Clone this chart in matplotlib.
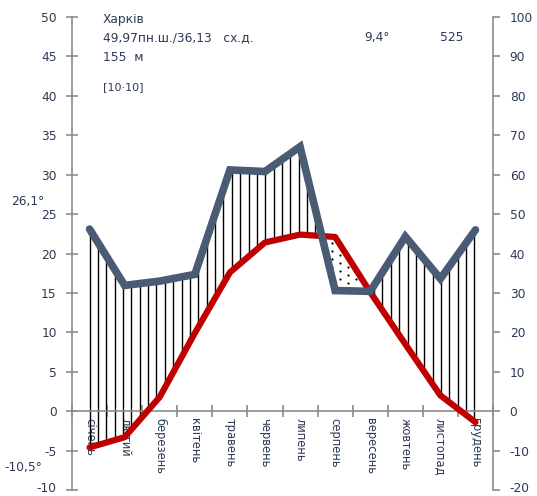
import numpy as np
import matplotlib
matplotlib.use("Agg")
import matplotlib.pyplot as plt
from matplotlib.transforms import ScaledTranslation

plt.rcParams['font.family'] = ['DejaVu Sans']

months = ["січень", "лютий", "березень", "квітень", "травень", "червень",
          "липень", "серпень", "вересень", "жовтень", "листопад", "грудень"]
temperature = [-4.6, -3.3, 1.8, 9.9, 17.6, 21.4, 22.4, 22.1, 15.1, 8.5, 2.0, -1.4]
precipitation = [46.2, 31.9, 33.0, 34.7, 61.2, 60.8, 67.1, 30.6, 30.4, 44.3, 33.6, 46.0]
left_ticks = [-10, -5, 0, 5, 10, 15, 20, 25, 30, 35, 40, 45, 50]
right_ticks = [-20, -10, 0, 10, 20, 30, 40, 50, 60, 70, 80, 90, 100]
station = "Харків"
coords = "49,97пн.ш./36,13   сх.д."
elevation = "155  м"
period = "[10·10]"
mean_temp = "9,4°"
annual_precip = "525"
max_label = "26,1°"
min_label = "-10,5°"

TXT = '#2B3A55'
AX = '#8C8C8C'
RED = '#C00000'
BLUE = '#4A5B74'
FS = 8.8

fig = plt.figure(figsize=(5.37, 4.96), dpi=100)
ax = fig.add_axes([0.1341, 0.0121, 0.784, 0.9536])
ax2 = ax.twinx()
ax.set_zorder(2)
ax2.set_zorder(1)
ax.patch.set_visible(False)

x = np.arange(len(months))
t = np.array(temperature, float)
p = np.array(precipitation, float) / 2.0  # precipitation in temperature units

# hatching: vertical lines where humid, dots where arid
hx = np.arange(0, 11.0001, 0.2385)
ht = np.interp(hx, x, t)
hp = np.interp(hx, x, p)
wet = hp > ht
ax.vlines(hx[wet], ht[wet], hp[wet], color='black', lw=1.0, zorder=2)

dx_list, dy_list = [], []
dgx = np.arange(0, 11.0001, 0.23)
for j, xx in enumerate(dgx):
    tt = np.interp(xx, x, t)
    pp = np.interp(xx, x, p)
    if tt > pp + 0.6:
        off = 0.0 if j % 2 == 0 else 0.5
        for yy in np.arange(np.ceil(pp) + 0.3 + off, tt - 0.4, 1.0):
            dx_list.append(xx)
            dy_list.append(yy)
ax.scatter(dx_list, dy_list, s=2.5, color='black', zorder=2, linewidths=0)

ax.plot(x, t, color=RED, lw=4.5, solid_capstyle='round', solid_joinstyle='round', zorder=3)
ax.plot(x, p, color=BLUE, lw=5.5, solid_capstyle='round', solid_joinstyle='miter', zorder=4)

ax.set_xlim(-0.5, 11.5)
ax.set_ylim(-10, 50)
ax2.set_ylim(-20, 100)

# axes styling
for a in (ax, ax2):
    for s in a.spines.values():
        s.set_visible(False)
ax.spines['left'].set_visible(True)
ax.spines['left'].set_color(AX)
ax.spines['left'].set_linewidth(1.2)
ax.spines['bottom'].set_visible(True)
ax.spines['bottom'].set_position(('data', 0))
ax.spines['bottom'].set_color(AX)
ax.spines['bottom'].set_linewidth(1.2)
ax2.spines['right'].set_visible(True)
ax2.spines['right'].set_color(AX)
ax2.spines['right'].set_linewidth(1.2)

ax.set_yticks(left_ticks)
ax.set_yticklabels([str(v) for v in left_ticks])
ax.tick_params(axis='y', direction='inout', length=8, width=1.2, color=AX,
               labelsize=FS, labelcolor=TXT, pad=7)
ax2.set_yticks(right_ticks)
ax2.set_yticklabels([str(v) for v in right_ticks])
ax2.tick_params(axis='y', direction='out', length=5, width=1.2, color=AX,
                labelsize=FS, labelcolor=TXT, pad=7)

ax.set_xticks(np.arange(-0.5, 12.0, 1.0))
ax.set_xticklabels([])
ax.tick_params(axis='x', direction='inout', length=8, width=1.2, color=AX)

# nudge the lowest tick labels up so they stay inside the figure
shift = ScaledTranslation(0, 2.5 / 72, fig.dpi_scale_trans)
lt = ax.yaxis.get_major_ticks()[0].label1
lt.set_transform(lt.get_transform() + shift)
rt = ax2.yaxis.get_major_ticks()[0].label2
rt.set_transform(rt.get_transform() + shift)

for i, m in enumerate(months):
    ax.text(i, -0.9, m, rotation=-90, ha='center', va='top', fontsize=8.3,
            color=TXT, zorder=1)

# annotations
ax.text(0.073, 1.008, station, transform=ax.transAxes, fontsize=FS, color=TXT, va='top')
ax.text(0.073, 0.971, coords, transform=ax.transAxes, fontsize=FS, color=TXT, va='top')
ax.text(0.073, 0.929, elevation, transform=ax.transAxes, fontsize=FS, color=TXT, va='top')
ax.text(0.073, 0.862, period, transform=ax.transAxes, fontsize=8, color=TXT, va='top')
ax.text(0.695, 0.971, mean_temp, transform=ax.transAxes, fontsize=FS, color=TXT, va='top')
ax.text(0.875, 0.971, annual_precip, transform=ax.transAxes, fontsize=FS, color=TXT, va='top')
fig.text(11 / 537, 1 - 202 / 496, max_label, fontsize=FS, color=TXT, va='center', ha='left')
fig.text(4 / 537, 1 - 467 / 496, min_label, fontsize=FS, color=TXT, va='center', ha='left')

fig.savefig('out.png', dpi=100)
